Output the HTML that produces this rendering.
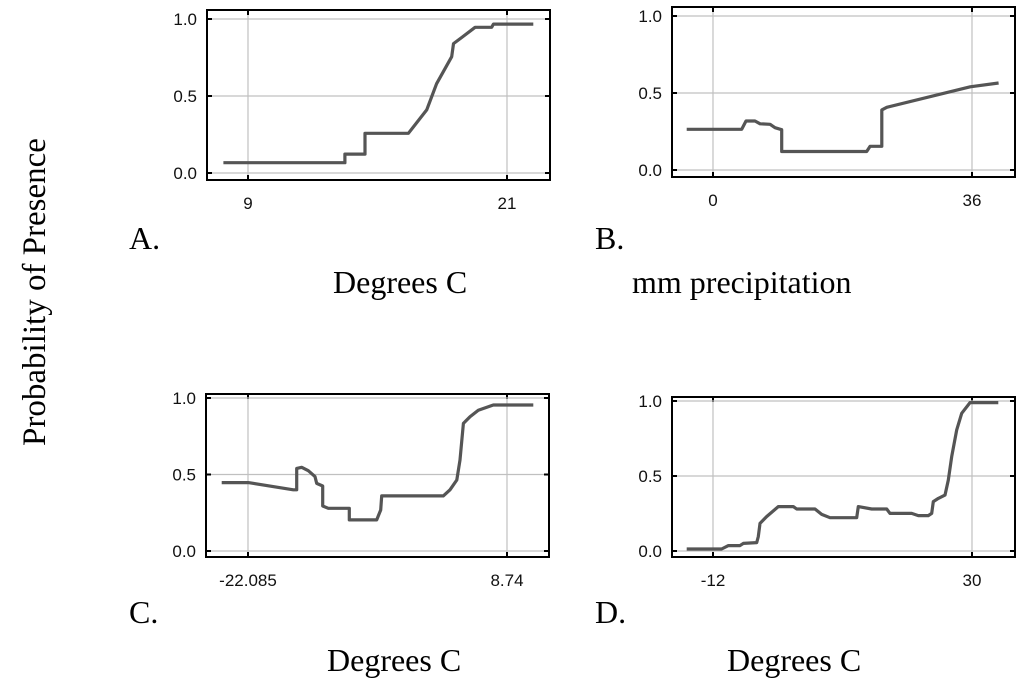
<!DOCTYPE html>
<html><head><meta charset="utf-8"><style>
body{margin:0;background:#fff;width:1024px;height:681px;overflow:hidden;position:relative;font-family:"Liberation Serif",serif}
.t{position:absolute;font-size:32px;line-height:32px;color:#000;white-space:nowrap}
svg{position:absolute;left:0;top:0}
</style></head><body>
<svg id="chart" width="1024" height="681"></svg>
<div class="t" style="left:-140px;top:276px;transform:rotate(-90deg);width:350px;text-align:center;font-size:33px">Probability of Presence</div>
<div class="t" style="left:129px;top:222px">A.</div>
<div class="t" style="left:595px;top:222px">B.</div>
<div class="t" style="left:129px;top:596px">C.</div>
<div class="t" style="left:595px;top:596px">D.</div>
<div class="t" style="left:333px;top:266px">Degrees C</div>
<div class="t" style="left:632px;top:266px">mm precipitation</div>
<div class="t" style="left:327px;top:644px">Degrees C</div>
<div class="t" style="left:727px;top:644px">Degrees C</div>
<script>
const aX=[7.86,13.49,13.49,14.42,14.42,16.43,17.28,17.74,18.44,18.52,18.9,19.52,20.29,20.37,22.22];
const aY=[0.067,0.067,0.123,0.123,0.258,0.258,0.41,0.58,0.755,0.84,0.88,0.946,0.946,0.967,0.967];
const aTicks=[9,21];const aTickLabels=["9","21"];
const bX=[-3.66,3.99,4.59,5.84,6.54,7.93,8.62,9.55,9.55,21.37,21.84,23.46,23.46,24.16,35.75,39.7];
const bY=[0.264,0.264,0.318,0.318,0.30,0.297,0.275,0.262,0.12,0.12,0.154,0.154,0.39,0.407,0.54,0.565];
const bTicks=[0,36];const bTickLabels=["0","36"];
const cX=[-25.22,-22.05,-16.69,-16.29,-16.29,-15.69,-14.91,-14.11,-13.91,-13.2,-13.2,-12.53,-10.03,-10.03,-6.77,-6.29,-6.17,-5.58,1.16,1.96,2.76,3.15,3.55,4.34,5.33,7.11,11.87];
const cY=[0.447,0.447,0.40,0.40,0.54,0.547,0.525,0.486,0.442,0.425,0.294,0.279,0.279,0.203,0.203,0.268,0.36,0.36,0.36,0.40,0.464,0.595,0.834,0.878,0.92,0.954,0.954];
const cTicks=[-22.085,8.74];const cTickLabels=["-22.085","8.74"];
const dX=[-16.27,-10.6,-9.51,-7.62,-7.08,-4.92,-4.65,-4.38,-3.3,-1.41,1.02,1.57,4.54,5.62,6.97,11.3,11.57,13.73,14.55,16.17,16.7,20.22,21.3,22.91,23.46,23.72,24.53,25.62,26.16,26.7,27.52,28.33,29.68,34.27];
const dY=[0.013,0.013,0.036,0.036,0.051,0.056,0.096,0.184,0.229,0.296,0.296,0.28,0.28,0.244,0.222,0.222,0.296,0.28,0.28,0.28,0.251,0.251,0.236,0.236,0.251,0.329,0.351,0.373,0.473,0.629,0.807,0.918,0.989,0.989];
const dTicks=[-12,30];const dTickLabels=["-12","30"];
const yTicks=[0,0.5,1];const yTickLabels=["0.0","0.5","1.0"];

const NS="http://www.w3.org/2000/svg";
const svg=document.getElementById('chart');
function mk(tag,attrs,parent){const e=document.createElementNS(NS,tag);for(const k in attrs)e.setAttribute(k,attrs[k]);(parent||svg).appendChild(e);return e;}
function panel(id,fr,xs,ys,ticks,tickLabels,px0,px1,py0,py1){
  const g=mk('g',{});
  
  
  const sx=v=>px0+(v-ticks[0])*(px1-px0)/(ticks[1]-ticks[0]);
  const sy=v=>py0+(v)*(py1-py0);
  ticks.forEach((t,i)=>{const l=mk('line',{x1:sx(t),x2:sx(t),y1:fr[1],y2:fr[3],stroke:'#c0c0c0','stroke-width':1.2},g);
    
    mk('line',{x1:sx(t),x2:sx(t),y1:fr[1],y2:fr[1]+5,stroke:'#000','stroke-width':2},g);
    mk('line',{x1:sx(t),x2:sx(t),y1:fr[3]-5,y2:fr[3],stroke:'#000','stroke-width':2},g);
    const tx=mk('text',{x:sx(t),y:fr[3]+29,'text-anchor':'middle','font-size':17,'font-family':'Liberation Sans, sans-serif',fill:'#111'},g);
    tx.textContent=tickLabels[i];
    });
  yTicks.forEach((t,i)=>{const l=mk('line',{x1:fr[0],x2:fr[2],y1:sy(t),y2:sy(t),stroke:'#c0c0c0','stroke-width':1.2},g);
    
    mk('line',{x1:fr[0],x2:fr[0]+5,y1:sy(t),y2:sy(t),stroke:'#000','stroke-width':2},g);
    mk('line',{x1:fr[2]-5,x2:fr[2],y1:sy(t),y2:sy(t),stroke:'#000','stroke-width':2},g);
    const tx=mk('text',{x:fr[0]-10,y:sy(t)+6,'text-anchor':'end','font-size':17,'font-family':'Liberation Sans, sans-serif',fill:'#111'},g);
    tx.textContent=yTickLabels[i];
    });
  const r=mk('rect',{x:fr[0],y:fr[1],width:fr[2]-fr[0],height:fr[3]-fr[1],fill:'none',stroke:'#000','stroke-width':2},g);
  
  const pts=xs.map((x,i)=>sx(x).toFixed(1)+','+sy(ys[i]).toFixed(1)).join(' ');
  const pl=mk('polyline',{points:pts,fill:'none',stroke:'#555','stroke-width':3.2,'stroke-linejoin':'round'},g);
  
}
panel('a',[207,10,550,180],aX,aY,aTicks,aTickLabels,248,507,173,19);
panel('b',[672,7,1015,177],bX,bY,bTicks,bTickLabels,713,972,170,16);
panel('c',[206,394,549,557],cX,cY,cTicks,cTickLabels,248,507,551,398);
panel('d',[672,397,1015,557],dX,dY,dTicks,dTickLabels,713,972,551,401);
</script>
</body></html>
